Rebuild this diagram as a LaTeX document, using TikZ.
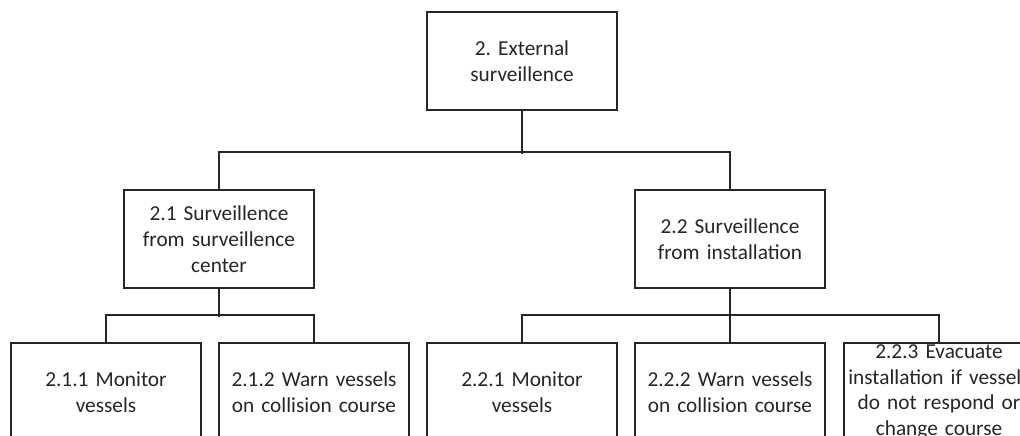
\documentclass[tikz,border=0pt]{standalone}
\usepackage{fontspec}
\setmainfont{Carlito}
\frenchspacing
\begin{document}
\begin{tikzpicture}[x=1pt,y=-1pt,
  box/.style={draw=black!85, line width=1.6pt, fill=white,
    minimum width=190pt, minimum height=98pt,
    inner xsep=4pt, inner ysep=0pt, text width=182pt, align=center,
    text=black!85, font=\fontsize{21.3}{25.8}\selectfont},
  link/.style={draw=black!85, line width=1.6pt}]
\useasboundingbox (0,0) rectangle (1020,436);
\clip (0,0) rectangle (1020,436);

% top level
\node[box] (root) at (522,61) {2. External\\surveillence};

% second level
\node[box] (s21) at (219,239) {2.1 Surveillence\\from surveillence\\center};
\node[box] (s22) at (730,239) {2.2 Surveillence\\from installation};

% third level
\node[box] (t211) at (106,392) {2.1.1 Monitor\\vessels};
\node[box] (t212) at (314,392) {2.1.2 Warn vessels\\on collision course};
\node[box] (t221) at (522,392) {2.2.1 Monitor\\vessels};
\node[box] (t222) at (730,392) {2.2.2 Warn vessels\\on collision course};
\node[box] (t223) at (939,392) {2.2.3 Evacuate\\installation if vessels\\do not respond or\\change course};

% connectors
\draw[link] (root.south) -- ++(0,43);
\draw[link] (s21.north) -- ++(0,-37) -| (s22.north);
\draw[link] (s21.south) -- ++(0,28);
\draw[link] (t211.north) -- ++(0,-27) -| (t212.north);
\draw[link] (s22.south) -- (t222.north);
\draw[link] (t221.north) -- ++(0,-27) -| (t223.north);
\end{tikzpicture}
\end{document}
